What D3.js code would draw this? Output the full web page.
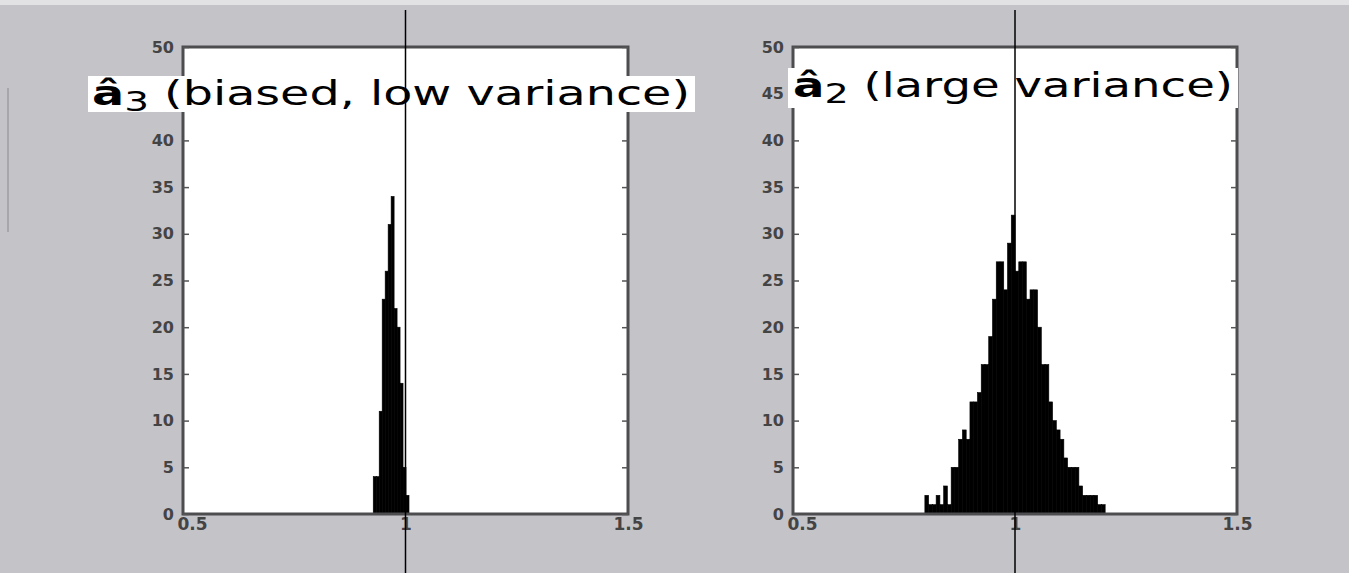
<!DOCTYPE html>
<html><head><meta charset="utf-8">
<script src="https://cdn.jsdelivr.net/npm/d3@7"></script>
<style>html,body{margin:0;padding:0;background:#c4c3c8;overflow:hidden}</style>
</head><body>
<svg id="chart" width="1349" height="573"></svg>
<script>
// ---- data ----
const yTicks = [0,5,10,15,20,25,30,35,40,45,50];
const xTicks = [0.5, 1, 1.5];
const xTickLabels = ["0.5", "1", "1.5"];
// left panel: a3 (biased, low variance)
const leftStart = 0.9275, leftWidth = 0.0067;
const leftCounts = [4,4,11,23,26,31,34,22,20,14,5,2];
// right panel: a2 (large variance)
const rightStart = 0.797, rightWidth = 0.00846;
const rightCounts = [2,1,1,2,1,3,1,5,5,8,9,8,12,12,13,16,16,19,23,27,27,24,29,32,26,27,27,23,24,24,20,16,16,12,10,9,8,6,5,5,5,3,2,2,2,2,1,1];
const trueValue = 1;
const panels = [
  {sub:"3", rest:" (biased, low variance)", start:leftStart, width:leftWidth, counts:leftCounts, hiddenTick:45},
  {sub:"2", rest:" (large variance)", start:rightStart, width:rightWidth, counts:rightCounts, hiddenTick:null}
];

// ---- layout ----
const svg = d3.select("#chart");
svg.append("rect").attr("x",0).attr("y",0).attr("width",1349).attr("height",573).attr("fill","#c4c3c8");
svg.append("rect").attr("x",0).attr("y",0).attr("width",1349).attr("height",5).attr("fill","#e2e2e4");
svg.append("line").attr("x1",8).attr("x2",8).attr("y1",88).attr("y2",232).attr("stroke","#8a8a8e").attr("stroke-width",1);

const geo = [
  {x0:183, x1:628, title:{x:88, y:76, w:607, h:36, tx:92, ty:105, tl:598}},
  {x0:793, x1:1237, title:{x:788, y:68, w:450, h:40, tx:793, ty:97, tl:440}}
];
const yTop = 47, yBot = 514;
const y = d3.scaleLinear().domain([0,50]).range([yBot, yTop]);

panels.forEach((p, i) => {
  const g = geo[i];
  const x = d3.scaleLinear().domain([0.5,1.5]).range([g.x0, g.x1]);
  const gp = svg.append("g");
  gp.append("rect").attr("x",g.x0).attr("y",yTop).attr("width",g.x1-g.x0).attr("height",yBot-yTop).attr("fill","#ffffff");
  // bars
  const bins = p.counts.map((c,k) => ({x0:p.start + k*p.width, x1:p.start+(k+1)*p.width, c}));
  gp.selectAll("rect.bar").data(bins).join("rect").attr("class","bar")
    .attr("x", d => x(d.x0)).attr("width", d => x(d.x1)-x(d.x0))
    .attr("y", d => y(d.c)).attr("height", d => y(0)-y(d.c))
    .attr("fill","#000").attr("stroke","#000").attr("stroke-width",0.6);
  // frame
  gp.append("rect").attr("x",g.x0).attr("y",yTop).attr("width",g.x1-g.x0).attr("height",yBot-yTop)
    .attr("fill","none").attr("stroke","#4d4d50").attr("stroke-width",3);
  // y axis
  const ya = d3.axisLeft(y).tickValues(yTicks).tickSize(-6).tickPadding(9)
    .tickFormat(d => d === p.hiddenTick ? "" : d3.format("d")(d));
  const yg = gp.append("g").attr("transform",`translate(${g.x0},0)`).call(ya);
  yg.select(".domain").remove();
  yg.selectAll("line").attr("stroke","#555").attr("stroke-width",1.5);
  yg.selectAll("text").attr("font-family","DejaVu Sans, sans-serif").attr("font-size",16).attr("font-weight","bold").attr("fill","#444");
  const yr = d3.axisRight(y).tickValues(yTicks).tickSize(-6).tickFormat("");
  const yrg = gp.append("g").attr("transform",`translate(${g.x1},0)`).call(yr);
  yrg.select(".domain").remove();
  yrg.selectAll("line").attr("stroke","#555").attr("stroke-width",1.5);
  // x axis
  const xa = d3.axisBottom(x).tickValues(xTicks).tickSize(0).tickPadding(4).tickFormat((d,k)=>xTickLabels[k]);
  const xg = gp.append("g").attr("transform",`translate(0,${yBot})`).call(xa);
  xg.select(".domain").remove();
  xg.selectAll("text").attr("font-family","DejaVu Sans, sans-serif").attr("font-size",17).attr("font-weight","bold").attr("fill","#444")
    .attr("dx", (d,k) => k === 0 ? 9 : 0);
  // title
  const t = g.title;
  gp.append("rect").attr("x",t.x).attr("y",t.y).attr("width",t.w).attr("height",t.h).attr("fill","#fff");
  const txt = gp.append("text").attr("x",t.tx).attr("y",t.ty)
    .attr("font-family","DejaVu Sans, sans-serif").attr("font-size",33).attr("fill","#000")
    .attr("textLength",t.tl).attr("lengthAdjust","spacingAndGlyphs");
  txt.append("tspan").attr("font-weight","bold").text("â");
  txt.append("tspan").attr("dy",6).attr("font-size",27).text(p.sub);
  txt.append("tspan").attr("dy",-6).text(p.rest);
  // true value line
  gp.append("line").attr("x1",x(trueValue)).attr("x2",x(trueValue)).attr("y1",10).attr("y2",573)
    .attr("stroke","#000").attr("stroke-width",1.5);
});
</script>
</body></html>
